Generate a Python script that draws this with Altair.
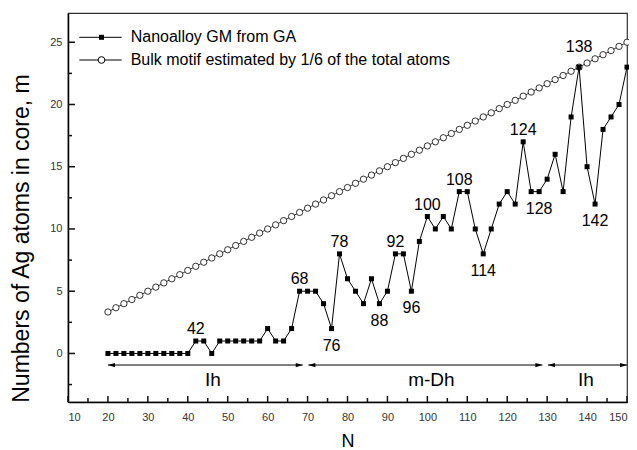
import altair as alt
import pandas as pd
import numpy as np

# ---------------- data ----------------
SERIES = ["Nanoalloy GM from GA", "Bulk motif estimated by 1/6 of the total atoms"]

N_GM = [20, 22, 24, 26, 28, 30, 32, 34, 36, 38, 40, 42, 44, 46, 48, 50, 52, 54, 56, 58,
        60, 62, 64, 66, 68, 70, 72, 74, 76, 78, 80, 82, 84, 86, 88, 90, 92, 94, 96, 98,
        100, 102, 104, 106, 108, 110, 112, 114, 116, 118, 120, 122, 124, 126, 128, 130,
        132, 134, 136, 138, 140, 142, 144, 146, 148, 150]
M_GM = [0, 0, 0, 0, 0, 0, 0, 0, 0, 0, 0, 1, 1, 0, 1, 1, 1, 1, 1, 1,
        2, 1, 1, 2, 5, 5, 5, 4, 2, 8, 6, 5, 4, 6, 4, 5, 8, 8, 5, 9,
        11, 10, 11, 10, 13, 13, 10, 8, 10, 12, 13, 12, 17, 13, 13, 14,
        16, 13, 19, 23, 15, 12, 18, 19, 20, 23]

N_BULK = N_GM
M_BULK = [3.33, 3.67, 4.00, 4.33, 4.67, 5.00, 5.33, 5.67, 6.00, 6.33, 6.67, 7.00, 7.33,
          7.67, 8.00, 8.33, 8.67, 9.00, 9.33, 9.67, 10.00, 10.33, 10.67, 11.00, 11.33,
          11.67, 12.00, 12.33, 12.67, 13.00, 13.33, 13.67, 14.00, 14.33, 14.67, 15.00,
          15.33, 15.67, 16.00, 16.33, 16.67, 17.00, 17.33, 17.67, 18.00, 18.33, 18.67,
          19.00, 19.33, 19.67, 20.00, 20.33, 20.67, 21.00, 21.33, 21.67, 22.00, 22.33,
          22.67, 23.00, 23.33, 23.67, 24.00, 24.33, 24.67, 25.00]

LABELS_ABOVE = [42, 68, 78, 92, 100, 108, 124]
LABELS_BELOW = [76, 88, 96, 114, 128, 142]
LABELS_RAISED = [138]

REGION_START = [20, 70.2, 130.2]
REGION_END = [68.8, 128.8, 150]
REGION_NAME = ["Ih", "m-Dh", "Ih"]
REGION_LABEL_N = [46.3, 101, 139.7]
REGION_LEVEL = -0.93

X_TICKS = [10, 20, 30, 40, 50, 60, 70, 80, 90, 100, 110, 120, 130, 140, 150]
X_MINOR = [15, 25, 35, 45, 55, 65, 75, 85, 95, 105, 115, 125, 135, 145]
Y_TICKS = [0, 5, 10, 15, 20, 25]
Y_MINOR = [-2.5, 2.5, 7.5, 12.5, 17.5, 22.5]

# ---------------- layout ----------------
W, H = 559, 389
FONT = "Liberation Sans"
X_DOM = [10, 150]
Y_DOM = [-3.9, 27.35]
PX_X = W / (X_DOM[1] - X_DOM[0])
PX_Y = H / (Y_DOM[1] - Y_DOM[0])
x_scale = alt.Scale(domain=X_DOM, nice=False, zero=False)
y_scale = alt.Scale(domain=Y_DOM, nice=False, zero=False)

X_TITLE = "N"
Y_TITLE = "Numbers of Ag atoms in core, m"
x_axis = alt.Axis(values=X_TICKS, title=X_TITLE, titleFontSize=18, titleY=44.5,
                  titleBaseline="alphabetic", labelPadding=9, format="d", labelOverlap=False)
y_axis = alt.Axis(values=Y_TICKS, title=Y_TITLE,
                  titleFontSize=23, titleX=-40, titleY=225, titleAngle=270,
                  titleBaseline="alphabetic", titleAlign="center", labelPadding=6, format="d")


def X(field):
    return alt.X(f"{field}:Q", scale=x_scale, axis=x_axis, title=X_TITLE)


def Y(field):
    return alt.Y(f"{field}:Q", scale=y_scale, axis=y_axis, title=Y_TITLE)


def YD(v):
    return alt.Y(datum=v, scale=y_scale, axis=y_axis, title=Y_TITLE)


def XD(v):
    return alt.X(datum=v, scale=x_scale, axis=x_axis, title=X_TITLE)


gm = pd.DataFrame({"N": N_GM, "m": M_GM, "series": SERIES[0]})
bulk = pd.DataFrame({"N": N_BULK, "m": M_BULK, "series": SERIES[1]})
gm_lookup = dict(zip(N_GM, M_GM))

lab_above = pd.DataFrame({"N": LABELS_ABOVE, "m": [gm_lookup[n] for n in LABELS_ABOVE]})
lab_below = pd.DataFrame({"N": LABELS_BELOW, "m": [gm_lookup[n] for n in LABELS_BELOW]})
lab_raised = pd.DataFrame({"N": LABELS_RAISED, "m": [gm_lookup[n] for n in LABELS_RAISED]})
for d in (lab_above, lab_below, lab_raised):
    d["txt"] = d["N"].astype(str)

regions = pd.DataFrame({"start": REGION_START, "end": REGION_END,
                        "name": REGION_NAME, "lab": REGION_LABEL_N})

# ---------------- layers ----------------
bulk_line = alt.Chart(bulk).mark_line(color="black", strokeWidth=0.8).encode(x=X("N"), y=Y("m"))
bulk_pts = alt.Chart(bulk).mark_point(shape="circle", size=40, filled=True, fill="white",
                                      stroke="black", strokeWidth=0.8, opacity=1).encode(x=X("N"), y=Y("m"))
gm_line = alt.Chart(gm).mark_line(color="black", strokeWidth=1).encode(x=X("N"), y=Y("m"))
gm_pts = alt.Chart(gm).mark_square(size=25, color="black", opacity=1).encode(x=X("N"), y=Y("m"))

txt_style = dict(font=FONT, fontSize=16, color="black", align="center", baseline="middle")
t_above = alt.Chart(lab_above).mark_text(dy=-12, **txt_style).encode(x=X("N"), y=Y("m"), text="txt:N")
t_below = alt.Chart(lab_below).mark_text(dy=17, **txt_style).encode(x=X("N"), y=Y("m"), text="txt:N")
t_raised = alt.Chart(lab_raised).mark_text(dy=-20, **txt_style).encode(x=X("N"), y=Y("m"), text="txt:N")

reg_rule = alt.Chart(regions).mark_rule(color="black", strokeWidth=1).encode(
    x=X("start"), x2="end:Q", y=YD(REGION_LEVEL))
head_left = alt.Chart(regions).mark_point(shape="M0,0L2,-0.6L2,0.6Z", size=49, filled=True,
                                          color="black", opacity=1).encode(x=X("start"), y=YD(REGION_LEVEL))
head_right = alt.Chart(regions).mark_point(shape="M0,0L-2,-0.6L-2,0.6Z", size=49, filled=True,
                                           color="black", opacity=1).encode(x=X("end"), y=YD(REGION_LEVEL))
reg_text = alt.Chart(regions).mark_text(font=FONT, fontSize=19, color="black", align="center",
                                        baseline="middle", dy=15).encode(
    x=X("lab"), y=YD(REGION_LEVEL), text="name:N")


# inward ticks drawn as short rules standing on the frame
def xticks(vals, length_px):
    return alt.Chart(pd.DataFrame({"N": vals})).mark_rule(color="#111", strokeWidth=1.5).encode(
        x=X("N"), y=YD(Y_DOM[0]), y2=alt.Y2(datum=Y_DOM[0] + length_px / PX_Y))


def yticks(vals, length_px):
    return alt.Chart(pd.DataFrame({"m": vals})).mark_rule(color="#111", strokeWidth=1.5).encode(
        y=Y("m"), x=XD(X_DOM[0]), x2=alt.X2(datum=X_DOM[0] + length_px / PX_X))


tick_layers = [xticks(X_TICKS, 6), xticks(X_MINOR, 4), yticks(Y_TICKS, 7), yticks(Y_MINOR, 4)]

# legend: one row per series (line sample + marker + label)
LEG_ROW_Y = [24.3, 47.0]
legend_layers = []
for i, name in enumerate(SERIES):
    ldf = pd.DataFrame({"series": [name]})
    yv = alt.value(LEG_ROW_Y[i])
    legend_layers.append(alt.Chart(ldf).mark_rule(color="black", strokeWidth=1).encode(
        x=alt.value(11.3), x2=alt.value(53.7), y=yv))
    if i == 0:
        legend_layers.append(alt.Chart(ldf).mark_square(size=25, color="black", opacity=1).encode(
            x=alt.value(33.5), y=yv))
    else:
        legend_layers.append(alt.Chart(ldf).mark_point(shape="circle", size=45, filled=True,
                                                       fill="white", stroke="black", strokeWidth=1,
                                                       opacity=1).encode(x=alt.value(33.5), y=yv))
    legend_layers.append(alt.Chart(ldf).mark_text(font=FONT, fontSize=16, color="black",
                                                  align="left", baseline="middle").encode(
        x=alt.value(62.7), y=yv, text="series:N"))

chart = alt.layer(
    bulk_line, bulk_pts, gm_line, gm_pts,
    t_above, t_below, t_raised,
    reg_rule, head_left, head_right, reg_text,
    *legend_layers,
    *tick_layers,
).properties(
    width=W, height=H,
    autosize=alt.AutoSizeParams(type="none"),
    padding={"left": 60, "top": 5, "right": 2, "bottom": 48},
).configure_view(
    stroke="#333", strokeWidth=1.2
).configure_axis(
    domainColor="black", domainWidth=1.5, ticks=False, tickSize=0, grid=False,
    labelFont=FONT, labelFontSize=11, labelColor="#333",
    titleFont=FONT, titleColor="black", titleFontWeight="normal",
)

chart.save("out.html", embed_options={"renderer": "svg", "actions": False})
